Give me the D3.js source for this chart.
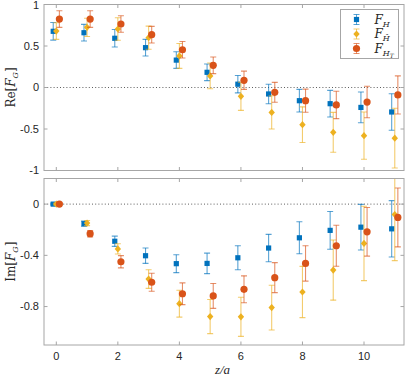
<!DOCTYPE html>
<html>
<head>
<meta charset="utf-8">
<script src="https://cdn.jsdelivr.net/npm/d3@7"></script>
<style>
  body { margin: 0; background: #fff; }
  svg { display: block; }
</style>
</head>
<body>
<svg id="chart"></svg>
<script>
// z/a positions
const zs = [0, 1, 2, 3, 4, 5, 6, 7, 8, 9, 10, 11];

// Re[F_G]
const reH = [0.677, 0.66, 0.593, 0.48, 0.33, 0.183, 0.04, -0.078, -0.159, -0.195, -0.24, -0.295];
const reHErr = [0.106, 0.1, 0.105, 0.1, 0.1, 0.1, 0.105, 0.117, 0.137, 0.16, 0.185, 0.22];
const reHhat = [0.68, 0.725, 0.705, 0.6, 0.38, 0.14, -0.106, -0.3, -0.448, -0.54, -0.58, -0.61];
const reHhatErr = [0.1, 0.11, 0.135, 0.14, 0.15, 0.155, 0.17, 0.2, 0.215, 0.24, 0.285, 0.36];
const reHT = [0.825, 0.825, 0.765, 0.636, 0.455, 0.267, 0.087, -0.058, -0.159, -0.21, -0.175, -0.09];
const reHTErr = [0.1, 0.1, 0.1, 0.1, 0.1, 0.1, 0.11, 0.12, 0.14, 0.165, 0.19, 0.23];

// Im[F_G]
const imH = [0, -0.153, -0.29, -0.403, -0.465, -0.463, -0.419, -0.343, -0.263, -0.205, -0.18, -0.193];
const imHErr = [0.008, 0.02, 0.04, 0.06, 0.07, 0.08, 0.094, 0.107, 0.125, 0.147, 0.178, 0.22];
const imHhat = [0, -0.148, -0.35, -0.585, -0.777, -0.878, -0.88, -0.808, -0.686, -0.515, -0.307, -0.081];
const imHhatErr = [0.008, 0.02, 0.04, 0.073, 0.105, 0.133, 0.153, 0.175, 0.2, 0.235, 0.29, 0.36];
const imHT = [0, -0.231, -0.45, -0.61, -0.7, -0.717, -0.665, -0.574, -0.463, -0.325, -0.216, -0.104];
const imHTErr = [0.008, 0.025, 0.048, 0.07, 0.085, 0.097, 0.105, 0.117, 0.138, 0.16, 0.19, 0.23];

const xTicks = [0, 2, 4, 6, 8, 10];
const reTicks = [-1, -0.5, 0, 0.5, 1];
const imTicks = [-0.8, -0.4, 0];

const width = 407, height = 380;
const svg = d3.select("#chart").attr("width", width).attr("height", height);

const axisColor = "#a6a6a6";
const textColor = "#262626";
const colors = { H: "#0072BD", Hhat: "#EDB120", HT: "#D95319" };
const offsets = { H: -0.1, Hhat: 0, HT: 0.1 };

const x = d3.scaleLinear().domain([-0.4, 11.3]).range([44, 404]);

const panels = [
  { y: d3.scaleLinear().domain([-1, 1]).range([170.5, 4.5]), ticks: reTicks,
    label: "Re", series: [["H", reH, reHErr], ["Hhat", reHhat, reHhatErr], ["HT", reHT, reHTErr]],
    xLabels: false },
  { y: d3.scaleLinear().domain([-1.1, 0.2]).range([345, 178.5]), ticks: imTicks,
    label: "Im", series: [["H", imH, imHErr], ["Hhat", imHhat, imHhatErr], ["HT", imHT, imHTErr]],
    xLabels: true }
];

const marker = (g, key, color) => {
  if (key === "H") {
    g.append("rect").attr("x", -2.6).attr("y", -2.6).attr("width", 5.2).attr("height", 5.2).attr("fill", color);
  } else if (key === "Hhat") {
    g.append("path").attr("d", "M0,-3.6L3.2,0L0,3.6L-3.2,0Z").attr("fill", color);
  } else {
    g.append("circle").attr("r", 3.6).attr("fill", color);
  }
};

panels.forEach((p) => {
  const g = svg.append("g");
  const [x0, x1] = x.range();
  const [yb, yt] = p.y.range();

  // clip for points beyond the frame
  const clipId = "clip-" + p.label;
  svg.append("clipPath").attr("id", clipId)
    .append("rect").attr("x", x0).attr("y", yt).attr("width", x1 - x0).attr("height", yb - yt);

  // zero line
  g.append("line")
    .attr("x1", x0).attr("x2", x1)
    .attr("y1", p.y(0)).attr("y2", p.y(0))
    .attr("stroke", "#333").attr("stroke-width", 0.8)
    .attr("stroke-dasharray", "1,2.2");

  const plot = g.append("g").attr("clip-path", `url(#${clipId})`);

  p.series.forEach(([key, vals, errs]) => {
    const c = colors[key];
    const pts = plot.selectAll(null)
      .data(zs.map((z, i) => ({ z, v: vals[i], e: errs[i] })))
      .join("g")
      .attr("transform", (d) => `translate(${x(d.z + offsets[key])},0)`);
    pts.append("line")
      .attr("y1", (d) => p.y(d.v - d.e)).attr("y2", (d) => p.y(d.v + d.e))
      .attr("stroke", c).attr("stroke-opacity", 0.65).attr("stroke-width", 1.1);
    [-1, 1].forEach((s) => {
      pts.append("line")
        .attr("x1", -3).attr("x2", 3)
        .attr("y1", (d) => p.y(d.v + s * d.e)).attr("y2", (d) => p.y(d.v + s * d.e))
        .attr("stroke", c).attr("stroke-opacity", 0.65).attr("stroke-width", 1.1);
    });
    pts.append("g")
      .attr("transform", (d) => `translate(0,${p.y(d.v)})`)
      .each(function () { marker(d3.select(this), key, c); });
  });

  // frame and ticks
  const frame = g.append("g").attr("stroke", axisColor).attr("stroke-width", 1).attr("fill", "none");
  frame.append("rect").attr("x", x0).attr("y", yt).attr("width", x1 - x0).attr("height", yb - yt);
  xTicks.forEach((t) => {
    frame.append("line").attr("x1", x(t)).attr("x2", x(t)).attr("y1", yb).attr("y2", yb - 3.5);
    frame.append("line").attr("x1", x(t)).attr("x2", x(t)).attr("y1", yt).attr("y2", yt + 3.5);
  });
  p.ticks.forEach((t) => {
    frame.append("line").attr("x1", x0).attr("x2", x0 + 3.5).attr("y1", p.y(t)).attr("y2", p.y(t));
    frame.append("line").attr("x1", x1).attr("x2", x1 - 3.5).attr("y1", p.y(t)).attr("y2", p.y(t));
  });

  // tick labels (keep the top one inside the window)
  g.selectAll(null).data(p.ticks).join("text")
    .attr("x", x0 - 5).attr("y", (d) => Math.max(p.y(d), 5.5)).attr("dy", "0.35em")
    .attr("text-anchor", "end")
    .style("font-family", "Liberation Sans, Arial, sans-serif")
    .style("font-size", "11px").attr("fill", textColor)
    .text((d) => d3.format("")(d).replace("−", "-"));

  if (p.xLabels) {
    g.selectAll(null).data(xTicks).join("text")
      .attr("x", (d) => x(d)).attr("y", yb + 15)
      .attr("text-anchor", "middle")
      .style("font-family", "Liberation Sans, Arial, sans-serif")
      .style("font-size", "11px").attr("fill", textColor)
      .text((d) => d);
  }

  // y label
  const lab = g.append("text")
    .attr("transform", `translate(15,${(yb + yt) / 2}) rotate(-90)`)
    .attr("text-anchor", "middle")
    .style("font-family", "DejaVu Serif, Liberation Serif, serif")
    .style("font-size", "12px").attr("fill", textColor);
  lab.append("tspan").text(p.label + "[");
  lab.append("tspan").style("font-style", "italic").text("F");
  lab.append("tspan").style("font-style", "italic").style("font-size", "8px").attr("dy", 2.5).text("G");
  lab.append("tspan").attr("dy", -2.5).text("]");
});

// x label
svg.append("text")
  .attr("x", x(5.4)).attr("y", 374)
  .attr("text-anchor", "middle")
  .style("font-family", "Liberation Serif, serif")
  .style("font-size", "13px").style("font-style", "italic").attr("fill", textColor)
  .text("z/a");

// legend
const legend = svg.append("g").attr("transform", "translate(340.5,9.5)");
legend.append("rect").attr("width", 58).attr("height", 49)
  .attr("fill", "#fff").attr("stroke", axisColor);
const legendItems = [["H", "H", null], ["Hhat", "Ĥ", null], ["HT", "H", "T"]];
legendItems.forEach(([key, sub, subsub], i) => {
  const row = legend.append("g").attr("transform", `translate(16,${10 + i * 14.5})`);
  const c = colors[key];
  row.append("line").attr("y1", -5).attr("y2", 5).attr("stroke", c).attr("stroke-opacity", 0.65);
  row.append("line").attr("x1", -3).attr("x2", 3).attr("y1", -5).attr("y2", -5).attr("stroke", c).attr("stroke-opacity", 0.65);
  row.append("line").attr("x1", -3).attr("x2", 3).attr("y1", 5).attr("y2", 5).attr("stroke", c).attr("stroke-opacity", 0.65);
  marker(row, key, c);
  const t = row.append("text").attr("x", 18).attr("y", 4)
    .style("font-family", "DejaVu Serif, Liberation Serif, serif")
    .style("font-style", "italic").style("font-size", "12px").attr("fill", textColor);
  t.append("tspan").text("F");
  t.append("tspan").style("font-size", "8px").attr("dy", 3).text(sub);
  if (subsub) t.append("tspan").style("font-size", "6px").attr("dy", 2).text(subsub);
});
</script>
</body>
</html>
